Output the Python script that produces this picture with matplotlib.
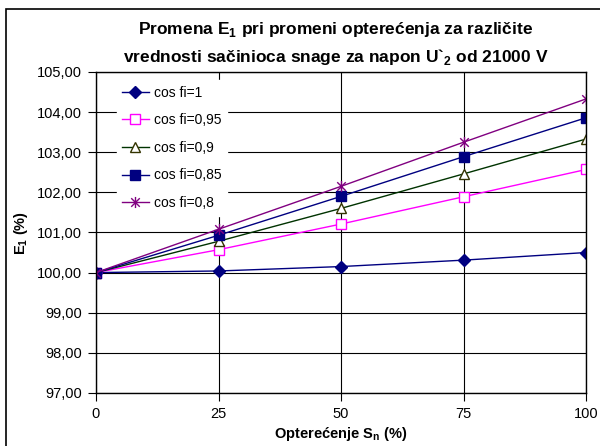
import matplotlib
matplotlib.use("Agg")
import matplotlib.pyplot as plt
from matplotlib.patches import Rectangle
from matplotlib.path import Path
from matplotlib.ticker import FuncFormatter

plt.rcParams["font.family"] = ["Liberation Sans", "DejaVu Sans"]

load = [0, 25, 50, 75, 100]
labels = ["cos fi=1", "cos fi=0,95", "cos fi=0,9", "cos fi=0,85", "cos fi=0,8"]
e1_cos_1 = [100.00, 100.04, 100.15, 100.31, 100.50]
e1_cos_095 = [100.00, 100.57, 101.21, 101.89, 102.57]
e1_cos_09 = [100.00, 100.78, 101.60, 102.46, 103.33]
e1_cos_085 = [100.00, 100.93, 101.90, 102.89, 103.86]
e1_cos_08 = [100.00, 101.08, 102.15, 103.25, 104.33]

# excel-style star: x with a vertical bar
star = Path([(-1, -1), (1, 1), (-1, 1), (1, -1), (0, -1.3), (0, 1.3)],
            [Path.MOVETO, Path.LINETO, Path.MOVETO, Path.LINETO, Path.MOVETO, Path.LINETO])

series = [e1_cos_1, e1_cos_095, e1_cos_09, e1_cos_085, e1_cos_08]
styles = [
    dict(color="#000080", marker="D", mfc="#000080", mec="#000080", ms=6),
    dict(color="#ff00ff", marker="s", mfc="white", mec="#ff00ff", ms=7),
    dict(color="#003300", marker="^", mfc="white", mec="#333300", ms=7),
    dict(color="#000080", marker="s", mfc="#000080", mec="#000080", ms=7),
    dict(color="#800080", marker=star, mfc="none", mec="#800080", ms=8, mew=1.0),
]

fig = plt.figure(figsize=(6.0, 4.46), dpi=100)
ax = fig.add_axes([0.16, 0.119, 0.817, 0.7196])

for vals, lab, st in zip(series, labels, styles):
    ax.plot(load, vals, lw=1.0, label=lab, **st)

ax.set_xlim(0, 100)
ax.set_ylim(97, 105)
ax.set_xticks(load)
ax.set_yticks(range(97, 106))
ax.yaxis.set_major_formatter(FuncFormatter(lambda v, p: f"{v:.2f}".replace(".", ",")))
ax.grid(True, color="black", lw=0.8)
ax.tick_params(labelsize=10.5, direction="out", length=6, pad=4)
for sp in ax.spines.values():
    sp.set_linewidth(1.0)

ax.set_xlabel("Opterećenje S$_\\mathregular{n}$ (%)", fontsize=10.5, fontweight="bold", labelpad=3)
ax.set_ylabel("E$_\\mathregular{1}$ (%)", fontsize=10.5, fontweight="bold", labelpad=5)
fig.suptitle("Promena E$_\\mathregular{1}$ pri promeni opterećenja za različite\n"
             "vrednosti sačinioca snage za napon U`$_\\mathregular{2}$ od 21000 V",
             fontsize=12.5, fontweight="bold", x=0.56, y=0.955, linespacing=1.55)

leg = ax.legend(loc="upper left", fontsize=10, frameon=True, fancybox=False,
                edgecolor="white", framealpha=1.0, labelspacing=0.98,
                handlelength=1.9, handletextpad=0.4, borderaxespad=0.0,
                bbox_to_anchor=(0.042, 0.975))

fig.patches.append(Rectangle((0.01, -0.1), 1.2, 1.08, transform=fig.transFigure,
                             fill=False, edgecolor="black", lw=1.2))

fig.savefig("out.png", dpi=100)
